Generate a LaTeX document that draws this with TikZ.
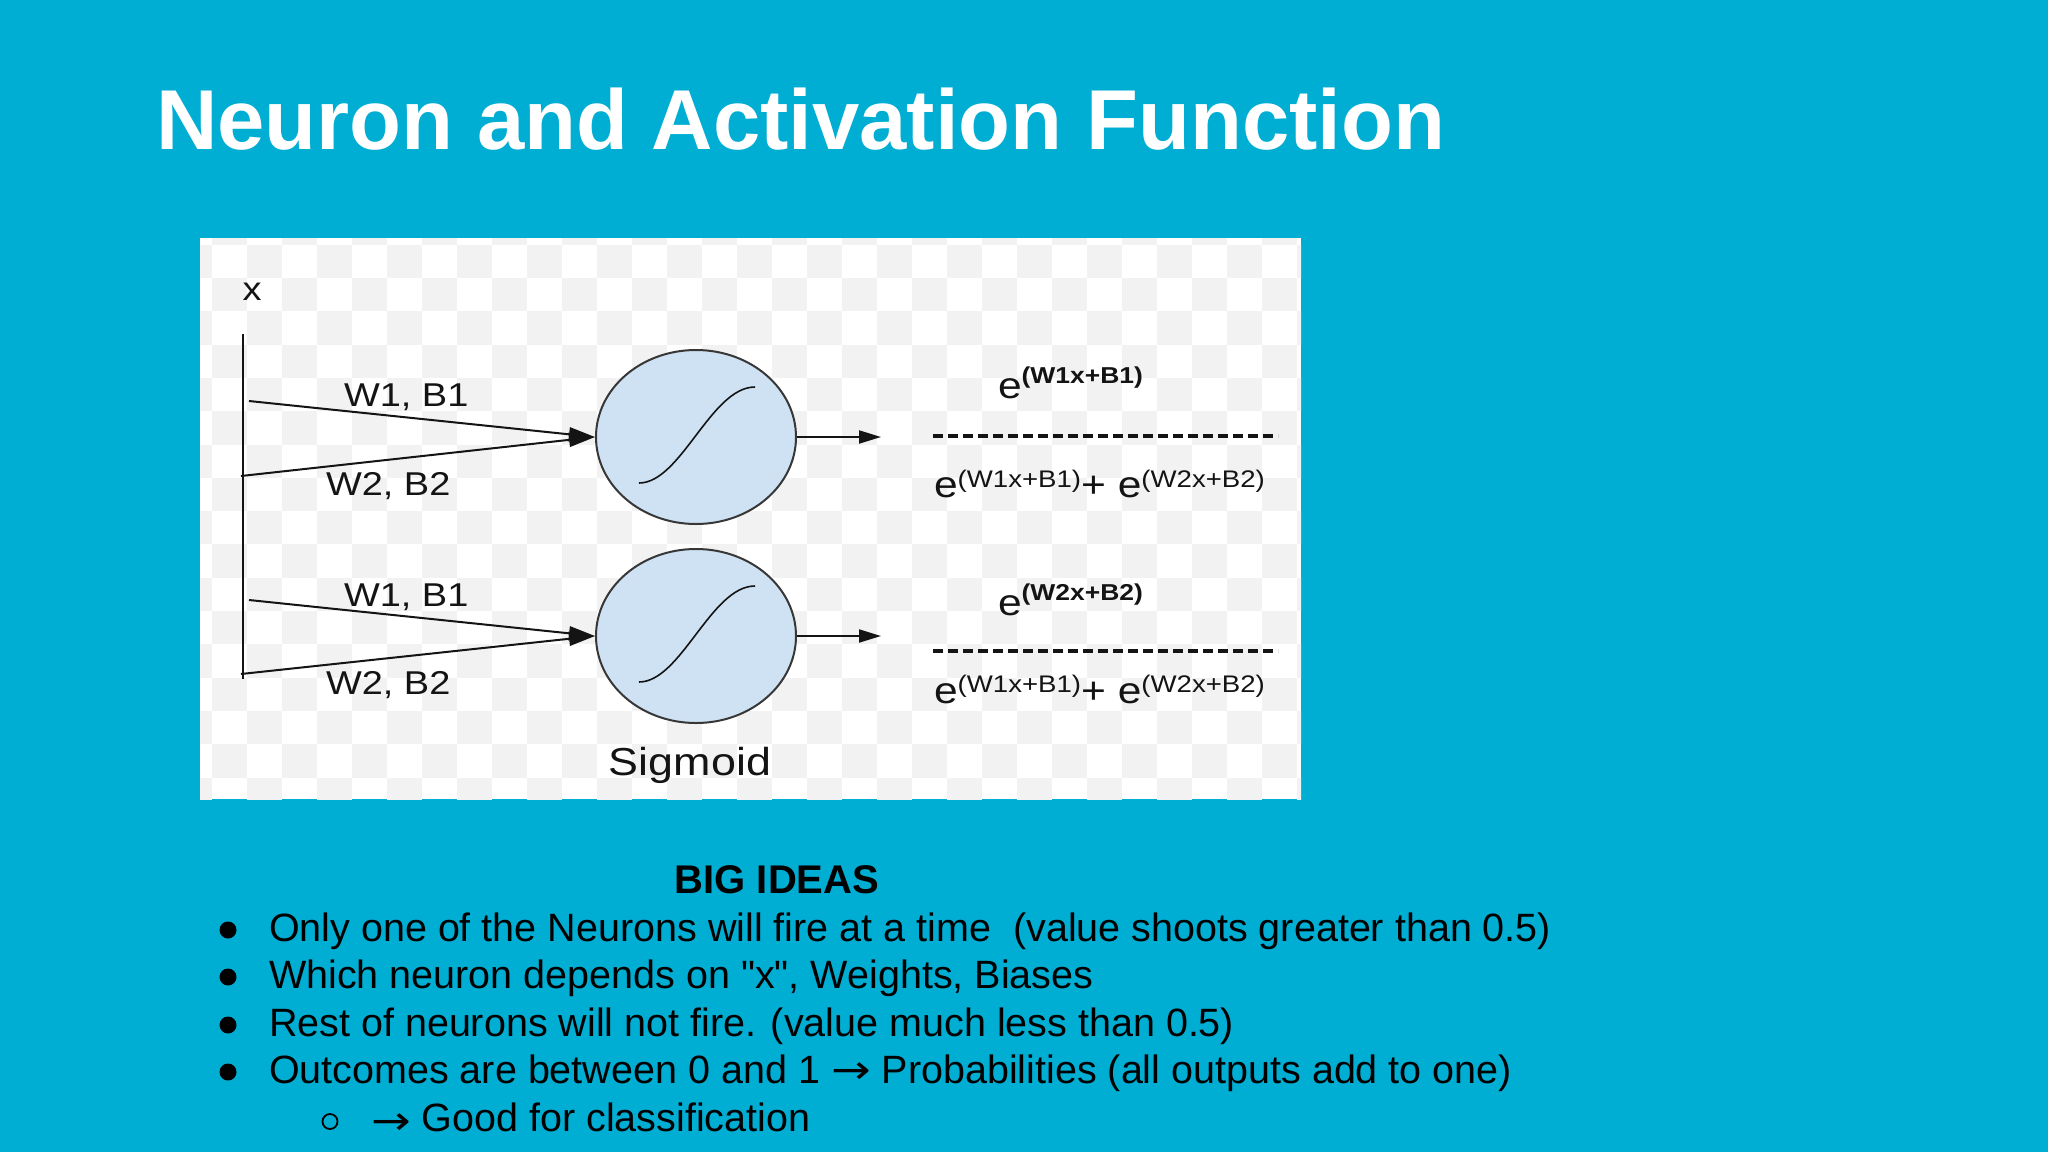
\documentclass[tikz,border=0pt]{standalone}
\usepackage{fontspec}
\setmainfont{Liberation Sans}[Ligatures=TeXOff]
\newfontfamily\arrowfont{DejaVu Sans}
\usetikzlibrary{arrows.meta,shapes.geometric}
\definecolor{slidebg}{RGB}{0,173,211}
\definecolor{cellblue}{RGB}{207,226,243}
\definecolor{ink}{RGB}{20,20,20}
\newcommand\fsz[1]{\fontsize{#1}{#1}\selectfont}
\newcommand\wide[1]{\scalebox{1.15}[1]{#1}}
\newcommand\rarr{\scalebox{1.2}[1]{\arrowfont →}}

\begin{document}
\begin{tikzpicture}[x=1pt, y=-1pt, line width=2pt,
    neuron/.style={ellipse, draw=ink!85, line width=2pt, fill=cellblue,
      minimum width=200pt, minimum height=174pt, inner sep=0pt},
    inarrow/.style={ink, -{Triangle[length=26pt,width=14pt]}},
    outarrow/.style={ink, -{Triangle[length=22pt,width=13pt]}},
    wtxt/.style={inner sep=0pt, text=ink, font=\fsz{33}},
    formula/.style={inner sep=0pt, anchor=base west, text=ink, font=\fsz{37}},
    fracbar/.style={ink, line width=4pt, dash pattern=on 10pt off 5pt},
    bodytxt/.style={inner sep=0pt, anchor=base west, font=\fsz{39.5}}]
    \useasboundingbox[fill=slidebg] (0,0) rectangle (2048,1152);
    % title
    \node[anchor=base west, inner sep=0pt, text=white, font=\fsz{85}\bfseries] (title) at (155,149) {Neuron and Activation Function};
    % picture panel with faint checker
    \fill[white] (200,238) rectangle (1301,799);
    \begin{scope}
      \clip (200,238) rectangle (1301,799);
      \foreach \i in {0,...,32}
        \foreach \j in {0,...,17}
          {\ifodd\numexpr\i+\j\relax
             \fill[black!5] ({176.7+35*\i},{211.4+33.3*\j}) rectangle ++(35,33.3);
           \fi}
    \end{scope}
    % input x
    \coordinate (xtop) at (243,334);
    \coordinate (xbot) at (243,679);
    \draw[ink] (xtop) -- (xbot);
    \node[wtxt, anchor=base] (xlab) at (252,300) {\wide{x}};
    % neurons
    \node[neuron] (n1) at (696,437) {};
    \node[neuron] (n2) at (696,636) {};
    \foreach \n in {n1,n2}
      \draw[ink, line width=1.6pt] ([shift={(-57,46)}]\n.center) .. controls ([shift={(-15,46)}]\n.center) and ([shift={(15,-50)}]\n.center) .. ([shift={(59,-50)}]\n.center);
    % weights
    \coordinate (a1) at (249,401);
    \coordinate (a2) at (241,476);
    \coordinate (a3) at (249,600);
    \coordinate (a4) at (241,674);
    \draw[inarrow] (a1) -- (n1.west);
    \draw[inarrow] (a2) -- (n1.west);
    \draw[inarrow] (a3) -- (n2.west);
    \draw[inarrow] (a4) -- (n2.west);
    \node[wtxt, anchor=base west] (w11) at (343,406) {\wide{W1, B1}};
    \node[wtxt, anchor=base west] (w21) at (325,495) {\wide{W2, B2}};
    \node[wtxt, anchor=base west] (w12) at (343,606) {\wide{W1, B1}};
    \node[wtxt, anchor=base west] (w22) at (325,694) {\wide{W2, B2}};
    \node[wtxt, font=\fsz{39}, anchor=base] (sig) at (690,775) {\wide{Sigmoid}};
    % outputs
    \coordinate (o1) at (881,437);
    \coordinate (o2) at (881,636);
    \draw[outarrow] (n1.east) -- (o1);
    \draw[outarrow] (n2.east) -- (o2);
    % softmax fractions
    \node[formula] (num1) at (997,398) {\wide{e\raisebox{15pt}{\fsz{23}\bfseries(W1x+B1)}}};
    \coordinate (bar1a) at (933,436);
    \coordinate (bar1b) at (1278,436);
    \draw[fracbar] (bar1a) -- (bar1b);
    \node[formula] (den1) at (933,497) {\wide{e\raisebox{10pt}{\fsz{24}(W1x+B1)}+ e\raisebox{10pt}{\fsz{24}(W2x+B2)}}};
    \node[formula] (num2) at (997,615) {\wide{e\raisebox{15pt}{\fsz{23}\bfseries(W2x+B2)}}};
    \coordinate (bar2a) at (933,651);
    \coordinate (bar2b) at (1278,651);
    \draw[fracbar] (bar2a) -- (bar2b);
    \node[formula] (den2) at (933,703) {\wide{e\raisebox{11pt}{\fsz{24}(W1x+B1)}+ e\raisebox{11pt}{\fsz{24}(W2x+B2)}}};
    % big ideas
    \node[inner sep=0pt, anchor=base, font=\fsz{40}\bfseries] (ideas) at (777,893) {BIG IDEAS};
    \node[bodytxt] (b1) at (268,941) {Only one of the Neurons will fire at a time\ \ (value shoots greater than 0.5)};
    \node[bodytxt] (b2) at (268,988) {Which neuron depends on "x", Weights, Biases};
    \node[bodytxt] (b3) at (268,1036) {Rest of neurons will not fire. (value much less than 0.5)};
    \node[bodytxt] (b4) at (268,1083) {Outcomes are between 0 and 1 \rarr{} Probabilities (all outputs add to one)};
    \node[bodytxt] (b5) at (370,1131) {\raisebox{-3pt}{\rarr} Good for classification};
    \foreach \b in {b1,b2,b3,b4}
      \fill ([shift={(-40,-11)}]\b.base west) circle (8.5pt);
    \draw[line width=1.8pt] ([shift={(-40,-9.5)}]b5.base west) circle (7.5pt);
\end{tikzpicture}
\end{document}
